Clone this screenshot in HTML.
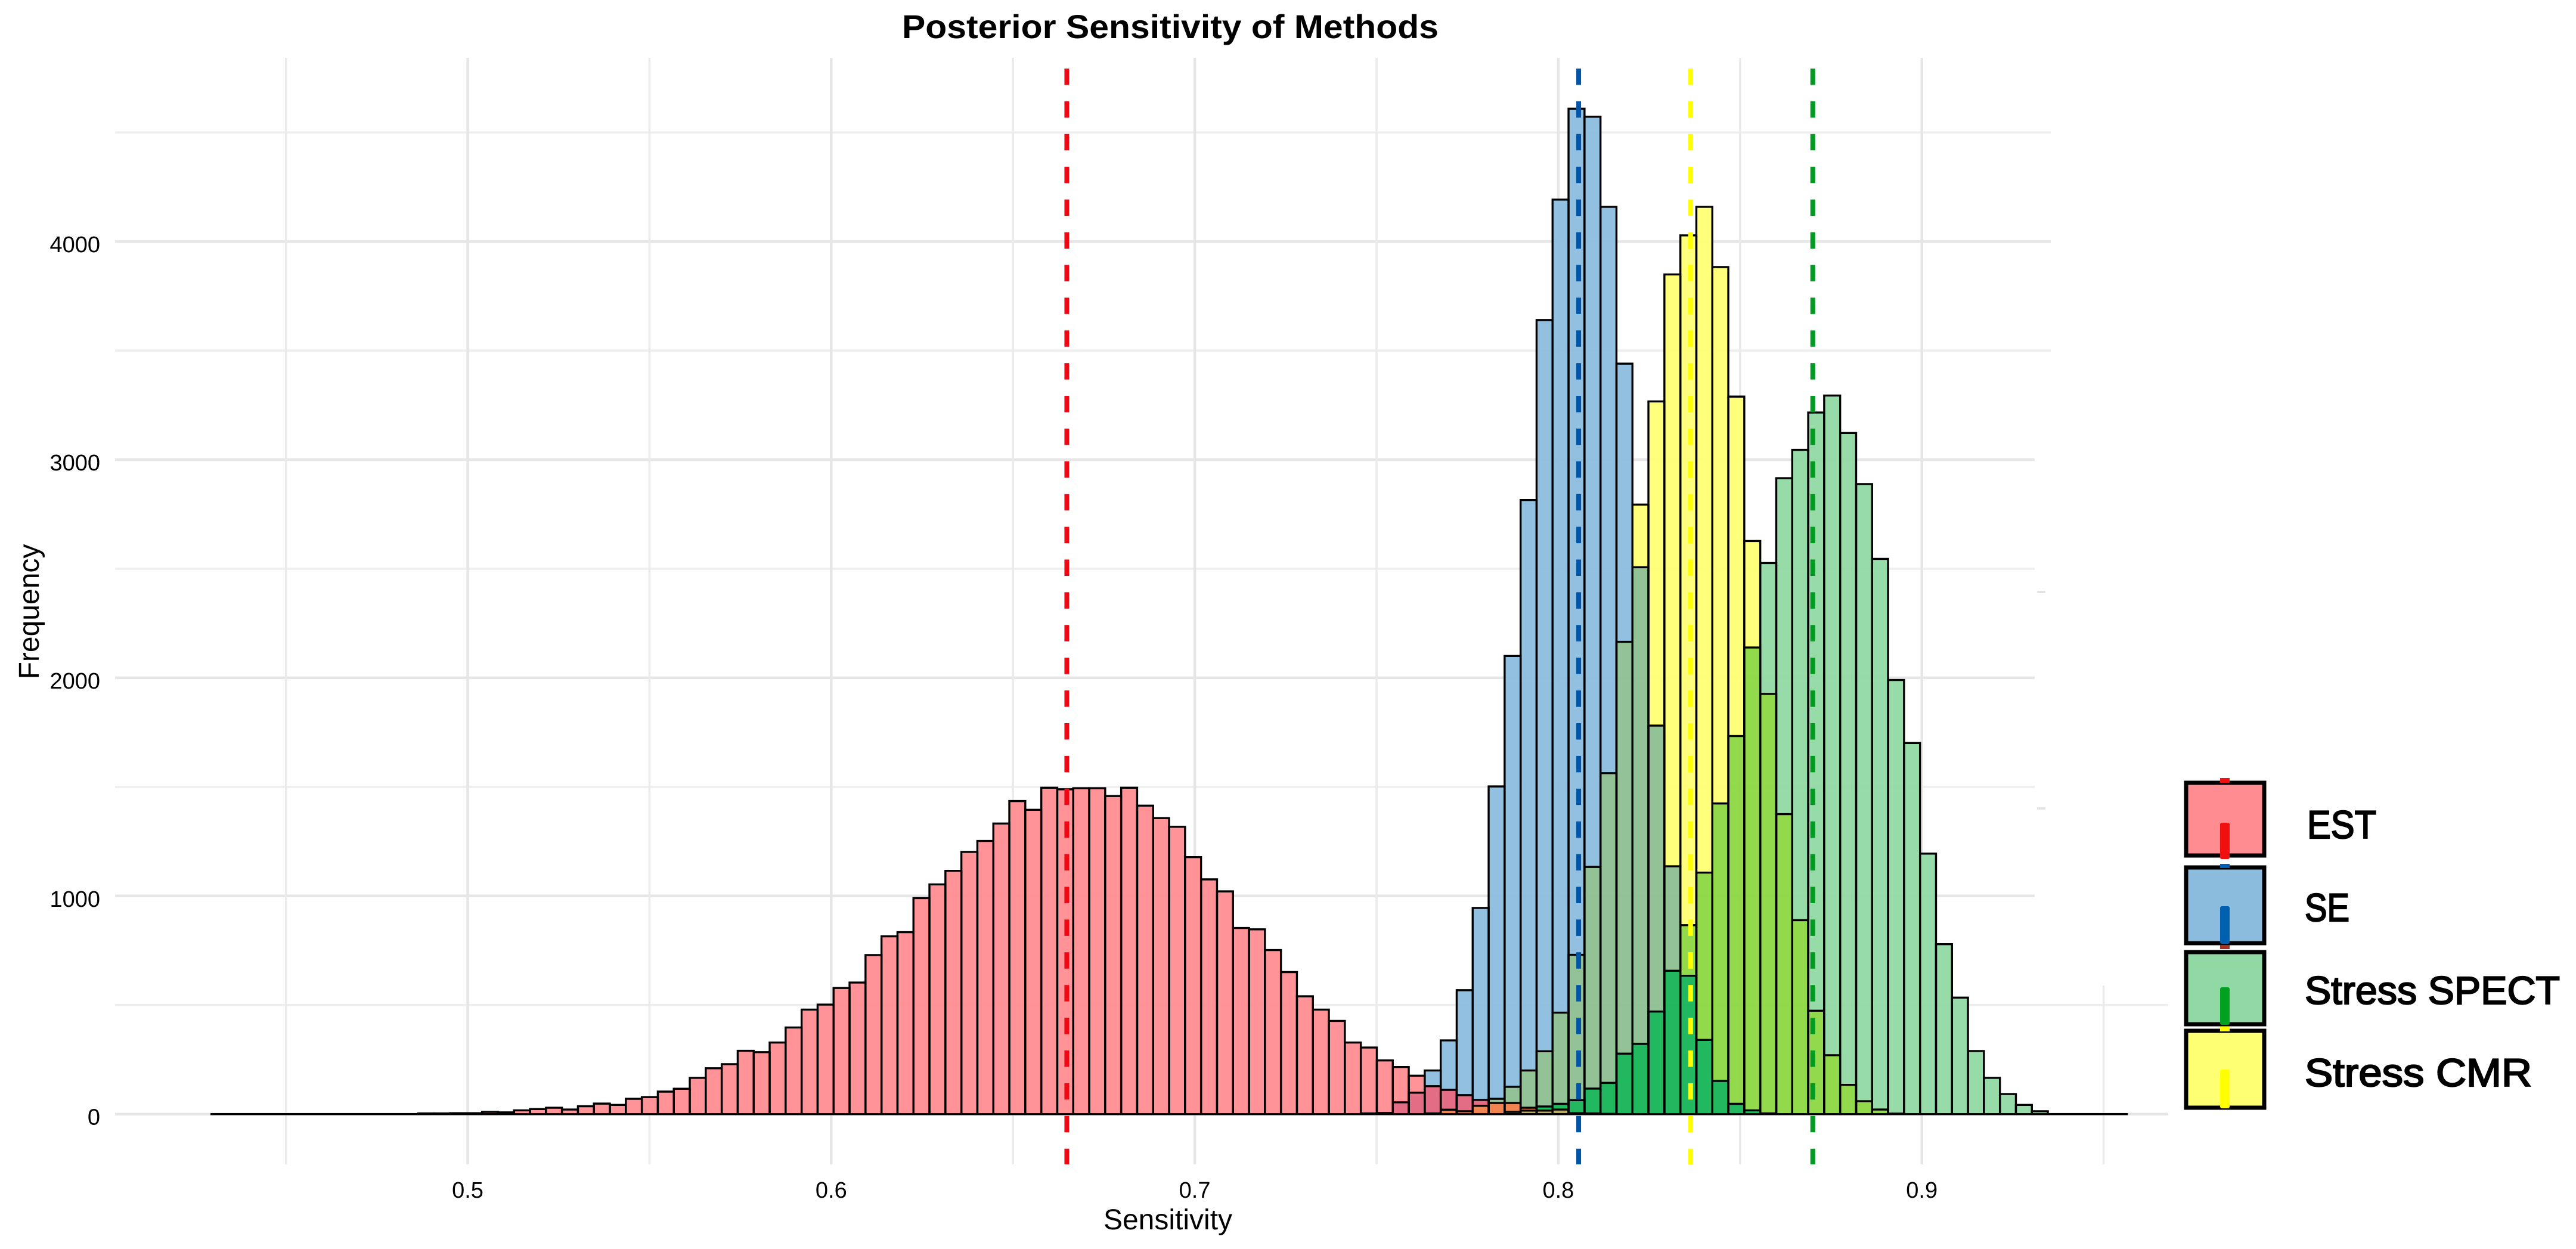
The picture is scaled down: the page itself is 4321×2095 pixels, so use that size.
<!DOCTYPE html>
<html lang="en">
<head>
<meta charset="utf-8">
<title>Posterior Sensitivity of Methods</title>
<style>
html,body{margin:0;padding:0;background:#fff;}
svg{display:block;}
text{font-family:"Liberation Sans",Arial,sans-serif;fill:#000;}
</style>
</head>
<body>
<svg id="chart" xmlns="http://www.w3.org/2000/svg" width="4321" height="2095" viewBox="0 0 4321 2095">
  <rect width="4321" height="2095" fill="#fff"/>
  <g id="grid"></g>
  <g id="fills"></g>
  <g id="bars"></g>
  <g id="means"></g>
  <g id="ticks"></g>
  <text x="1513" y="64" font-size="56" font-weight="700" textLength="900" lengthAdjust="spacingAndGlyphs">Posterior Sensitivity of Methods</text>
  <text x="1959" y="2062" font-size="48" text-anchor="middle">Sensitivity</text>
  <text transform="translate(65 1026) rotate(-90)" font-size="48" text-anchor="middle">Frequency</text>
  <rect x="3417" y="991" width="14" height="4" fill="#e4e4e4"/>
  <rect x="3417" y="1354" width="14" height="4" fill="#e4e4e4"/>

  <g>
    <g>
      <rect x="3667" y="1313" width="131" height="122" fill="#ff8c90" stroke="#000" stroke-width="7"/>
      <rect x="3724" y="1305" width="16" height="8" fill="#f01010"/>
      <rect x="3724" y="1380" width="16" height="61" rx="3" fill="#f01010"/>
      <text x="3870" y="1406" font-size="66" stroke="#000" stroke-width="2.2" textLength="116" lengthAdjust="spacingAndGlyphs">EST</text>
    </g>
    <g>
      <rect x="3667" y="1455" width="131" height="127" fill="#8bbcde" stroke="#000" stroke-width="7"/>
      <rect x="3724" y="1449" width="16" height="7" fill="#0060b0"/>
      <rect x="3724" y="1520" width="16" height="63" rx="3" fill="#0060b0"/>
      <rect x="3724" y="1585" width="16" height="7" fill="#a03020"/>
      <text x="3866" y="1545" font-size="66" stroke="#000" stroke-width="2.2" textLength="75" lengthAdjust="spacingAndGlyphs">SE</text>
    </g>
    <g>
      <rect x="3667" y="1597" width="131" height="121" fill="#90d9a4" stroke="#000" stroke-width="7"/>
      <rect x="3724" y="1656" width="16" height="63" rx="3" fill="#00a020"/>
      <text x="3866" y="1684" font-size="66" stroke="#000" stroke-width="2.2" textLength="428" lengthAdjust="spacingAndGlyphs">Stress SPECT</text>
    </g>
    <g>
      <rect x="3667" y="1729" width="131" height="129" fill="#ffff73" stroke="#000" stroke-width="7"/>
      <rect x="3724" y="1722" width="16" height="8" fill="#ffff00"/>
      <rect x="3724" y="1794" width="16" height="65" rx="3" fill="#ffff00"/>
      <text x="3866" y="1822" font-size="66" stroke="#000" stroke-width="2.2" textLength="381" lengthAdjust="spacingAndGlyphs">Stress CMR</text>
    </g>
  </g>
</svg>
<script>
var binStart = 0.42924;
var binWidth = 0.004395;

var estCounts = [
  0,0,0,0,0,0,0,0,0,0,
  0,0,0,3,3,4,4,10,8,17,
  23,29,21,36,48,42,70,78,103,116,
  166,210,229,290,284,328,397,479,502,578,
  603,729,815,834,990,1053,1115,1202,1252,1332,
  1435,1395,1496,1489,1494,1494,1458,1496,1414,1357,
  1317,1178,1076,1021,853,847,752,651,540,479,
  427,328,305,246,216,176,128,111,87,65,
  51,51,29,16,21,4,3,1,0,0,
  0,0,0,0,0,0,0,0,0,0,
  0,0,0,0,0,0,0,0,0,0,
  0,0,0,0,0,0,0,0,0,0
];
var seCounts = [
  0,0,0,0,0,0,0,0,0,0,
  0,0,0,0,0,0,0,0,0,0,
  0,0,0,0,0,0,0,0,0,0,
  0,0,0,0,0,0,0,0,0,0,
  0,0,0,0,0,0,0,0,0,0,
  0,0,0,0,0,0,0,0,0,0,
  0,0,0,0,0,0,0,0,0,0,
  0,0,3,5,54,98,200,338,568,945,
  1502,2100,2815,3640,4192,4609,4572,4159,3440,2507,
  1781,1136,634,340,152,47,17,3,0,0,
  0,0,0,0,0,0,0,0,0,0,
  0,0,0,0,0,0,0,0,0,0
];
var spectCounts = [
  0,0,0,0,0,0,0,0,0,0,
  0,0,0,0,0,0,0,0,0,0,
  0,0,0,0,0,0,0,0,0,0,
  0,0,0,0,0,0,0,0,0,0,
  0,0,0,0,0,0,0,0,0,0,
  0,0,0,0,0,0,0,0,0,0,
  0,0,0,0,0,0,0,0,0,0,
  0,0,0,0,0,0,0,0,0,0,
  0,10,16,35,47,64,117,143,277,322,
  470,657,866,1107,1424,1733,2139,2526,2915,3045,
  3216,3294,3122,2888,2545,1990,1701,1194,779,534,
  289,166,92,42,13,0,0,0,0,0
];
var cmrCounts = [
  0,0,0,0,0,0,0,0,0,0,
  0,0,0,0,0,0,0,0,0,0,
  0,0,0,0,0,0,0,0,0,0,
  0,0,0,0,0,0,0,0,0,0,
  0,0,0,0,0,0,0,0,0,0,
  0,0,0,0,0,0,0,0,0,0,
  0,0,0,0,0,0,0,0,0,0,
  0,0,0,0,0,0,3,20,13,38,
  70,125,200,288,465,730,1133,1563,2165,2794,
  3267,3849,4028,4159,3883,3289,2627,1926,1375,889,
  474,270,134,59,21,2,0,0,0,0,
  0,0,0,0,0,0,0,0,0,0
];
var meanValues = [0.6648, 0.8056, 0.8364, 0.87];
var meanNames = ['est', 'se', 'stress-spect', 'stress-cmr'];
var xTickValues = [0.5, 0.6, 0.7, 0.8, 0.9];
var xTickLabels = ['0.5', '0.6', '0.7', '0.8', '0.9'];
var xMinorValues = [0.45, 0.55, 0.65, 0.75, 0.85];
var yTickValues = [0, 1000, 2000, 3000, 4000];
var yTickLabels = ['0', '1000', '2000', '3000', '4000'];
var yMinorValues = [500, 1500, 2500, 3500, 4500];

/* colour of each overlap band, keyed by which series are present */
var overlapColors = {
  E: '#ff8c90', S: '#8bbcde', G: '#90d9a4', C: '#ffff73',
  ES: '#e1647d', EC: '#f07d46', EG: '#b4a555',
  SC: '#8cbe91', SG: '#4aab80', GC: '#8cd741',
  ESC: '#f07d46', ESG: '#b4a555', EGC: '#b4a555',
  SGC: '#14b455', ESGC: '#b4a555'
};

function xScale(v) { return 784.5 + (v - 0.5) * 6098; }
function yScale(v) { return 1868.7 - v * 0.3659; }

var NS = 'http://www.w3.org/2000/svg';
function make(tag, attrs, parent) {
  var node = document.createElementNS(NS, tag);
  for (var k in attrs) { node.setAttribute(k, attrs[k]); }
  parent.appendChild(node);
  return node;
}
function gridRight(v) {
  if (v <= 500) return 3637;
  if (v <= 3000) return 3413;
  return 3440;
}

var gridG = document.getElementById('grid');
var fillsG = document.getElementById('fills');
var barsG = document.getElementById('bars');
var meansG = document.getElementById('means');
var ticksG = document.getElementById('ticks');

yMinorValues.forEach(function (v) {
  var line = make('line', {x1: 193, x2: gridRight(v), y1: yScale(v), y2: yScale(v), stroke: '#eeeeee', 'stroke-width': 3.5}, gridG);
  
  
});
yTickValues.forEach(function (v) {
  var line = make('line', {x1: 193, x2: gridRight(v), y1: yScale(v), y2: yScale(v), stroke: '#e6e6e6', 'stroke-width': 4.5}, gridG);
  
  
});
xMinorValues.forEach(function (v) {
  var line = make('line', {x1: xScale(v), x2: xScale(v), y1: 97, y2: 1953, stroke: '#ebebeb', 'stroke-width': 3.5}, gridG);
  
  
});
xTickValues.forEach(function (v) {
  var line = make('line', {x1: xScale(v), x2: xScale(v), y1: 97, y2: 1953, stroke: '#e6e6e6', 'stroke-width': 4.5}, gridG);
  
  
});
var tailLine = make('line', {x1: xScale(0.95), x2: xScale(0.95), y1: 1653, y2: 1953, stroke: '#ebebeb', 'stroke-width': 3.5}, gridG);



/* overlap bands for every bin */
estCounts.forEach(function (_, i) {
  var present = [
    {key: 'E', h: estCounts[i]},
    {key: 'S', h: seCounts[i]},
    {key: 'G', h: spectCounts[i]},
    {key: 'C', h: cmrCounts[i]}
  ].filter(function (s) { return s.h > 0; }).sort(function (a, b) { return a.h - b.h; });
  var low = 0;
  present.forEach(function (s, idx) {
    var rest = present.slice(idx).map(function (r) { return r.key; });
    var key = ['E', 'S', 'G', 'C'].filter(function (k) { return rest.indexOf(k) >= 0; }).join('');
    if (s.h > low) {
      var x0 = xScale(binStart + i * binWidth);
      var x1 = xScale(binStart + (i + 1) * binWidth);
      var band = make('rect', {
        x: x0, width: x1 - x0, y: yScale(s.h), height: yScale(low) - yScale(s.h),
        fill: overlapColors[key], 'fill-opacity': 0.94
      }, fillsG);
      
      
    }
    low = s.h;
  });
});

function drawSeries(counts, name) {
  counts.forEach(function (c, i) {
    var x0 = xScale(binStart + i * binWidth);
    var x1 = xScale(binStart + (i + 1) * binWidth);
    var y0 = yScale(0);
    var y1 = yScale(c);
    var bar = make('path', {
      d: 'M' + x0 + ' ' + y0 + 'V' + y1 + 'H' + x1 + 'V' + y0 + 'Z',
      fill: 'none', stroke: '#000', 'stroke-width': 3.4
    }, barsG);
    
    
  });
}
drawSeries(cmrCounts, 'bar-stress-cmr');
drawSeries(seCounts, 'bar-se');
drawSeries(spectCounts, 'bar-stress-spect');
drawSeries(estCounts, 'bar-est');

var meanColors = ['#ee0a14', '#0055a8', '#ffff00', '#009a20'];
meanValues.forEach(function (v, i) {
  var line = make('line', {
    x1: xScale(v), x2: xScale(v), y1: 115, y2: 1953,
    stroke: meanColors[i], 'stroke-width': 8, 'stroke-dasharray': '27.5 27.4'
  }, meansG);
  
  
});

xTickValues.forEach(function (v, i) {
  var t = make('text', {x: xScale(v), y: 2009, 'font-size': 38, 'text-anchor': 'middle'}, ticksG);
  
  
  t.textContent = xTickLabels[i];
});
yTickValues.forEach(function (v, i) {
  var t = make('text', {x: 168, y: yScale(v) + 18, 'font-size': 38, 'text-anchor': 'end'}, ticksG);
  
  
  t.textContent = yTickLabels[i];
});
</script>
</body>
</html>
